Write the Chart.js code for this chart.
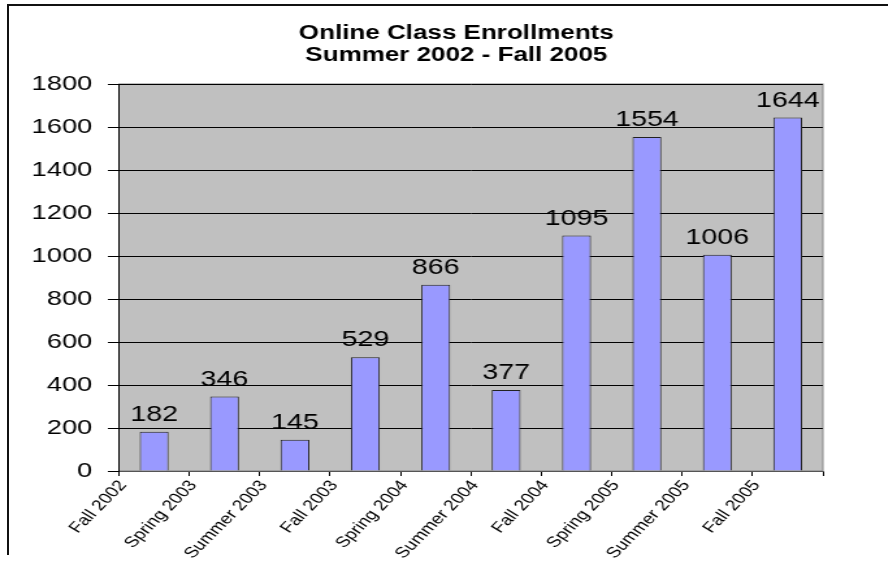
<!DOCTYPE html>
<html>
<head>
<meta charset="utf-8">
<script src="https://cdn.jsdelivr.net/npm/chart.js@4/dist/chart.umd.min.js"></script>
<style>
  html, body { margin: 0; padding: 0; background: #fff; overflow: hidden; }
  body { width: 888px; height: 561px; position: relative; }
  #frame {
    position: absolute; left: 7px; top: 4px; width: 900px; height: 549px;
    border-left: 2px solid #111; border-top: 2px solid #111;
  }
  /* the original picture is stretched sideways, so the canvas is too */
  #chart {
    position: absolute; left: 0; top: 0;
    transform: scaleX(1.3); transform-origin: 0 0;
  }
</style>
</head>
<body>
<div id="frame"></div>
<canvas id="chart" width="702" height="561"></canvas>
<script>
// ---- data ----
const semesters = [
  "Fall 2002", "Spring 2003", "Summer 2003", "Fall 2003", "Spring 2004",
  "Summer 2004", "Fall 2004", "Spring 2005", "Summer 2005", "Fall 2005"
];
const enrollments = [182, 346, 145, 529, 866, 377, 1095, 1554, 1006, 1644];
const titleLines = ["Online Class Enrollments", "Summer 2002 - Fall 2005"];

const FONT = "'Liberation Sans', Arial, sans-serif";

// gray plot background
const plotBackground = {
  id: "plotBackground",
  beforeDraw(chart) {
    const { ctx, chartArea: a } = chart;
    ctx.save();
    ctx.fillStyle = "#c0c0c0";
    ctx.fillRect(a.left, a.top, a.right - a.left, a.bottom - a.top);
    ctx.strokeStyle = "#808080";
    ctx.lineWidth = 1;
    ctx.strokeRect(a.left, a.top, a.right - a.left, a.bottom - a.top);
    ctx.restore();
  }
};

// numbers above each bar
const valueLabels = {
  id: "valueLabels",
  afterDatasetsDraw(chart) {
    const { ctx } = chart;
    const meta = chart.getDatasetMeta(0);
    ctx.save();
    ctx.font = "22px " + FONT;
    ctx.fillStyle = "#000";
    ctx.textAlign = "center";
    ctx.textBaseline = "alphabetic";
    meta.data.forEach((bar, i) => {
      ctx.fillText(String(enrollments[i]), bar.x, bar.y - 11);
    });
    ctx.restore();
  }
};

new Chart(document.getElementById("chart").getContext("2d"), {
  type: "bar",
  data: {
    labels: semesters,
    datasets: [{
      data: enrollments,
      backgroundColor: "#9999ff",
      borderColor: "#222",
      borderWidth: 1,
      categoryPercentage: 1,
      barPercentage: 0.41
    }]
  },
  options: {
    responsive: false,
    animation: false,
    layout: { padding: 0 },
    plugins: {
      legend: { display: false },
      tooltip: { enabled: false },
      title: {
        display: true,
        text: titleLines,
        color: "#000",
        font: { family: FONT, size: 20, weight: "bold", lineHeight: 1.1 },
        padding: { top: 22, bottom: 18 }
      }
    },
    scales: {
      x: {
        offset: true,
        grid: { offset: true, drawOnChartArea: false, drawTicks: true, tickLength: 5, color: "#000" },
        border: { color: "#555" },
        ticks: {
          color: "#000",
          font: { family: FONT, size: 15 },
          minRotation: 52,
          maxRotation: 52,
          labelOffset: -24,
          padding: 1
        },
        afterFit: s => { s.height = 90; }
      },
      y: {
        min: 0,
        max: 1800,
        ticks: {
          stepSize: 200,
          color: "#000",
          font: { family: FONT, size: 21 },
          padding: 12,
          callback: v => String(v)
        },
        grid: { color: "#000", tickLength: 8.5 },
        border: { color: "#000" },
        afterFit: s => { s.width = 91.5; }
      },
      yr: {
        position: "right",
        min: 0,
        max: 1,
        ticks: { display: false },
        grid: { display: false },
        border: { display: false },
        afterFit: s => { s.width = 69; }
      }
    }
  },
  plugins: [plotBackground, valueLabels]
});
</script>
</body>
</html>
